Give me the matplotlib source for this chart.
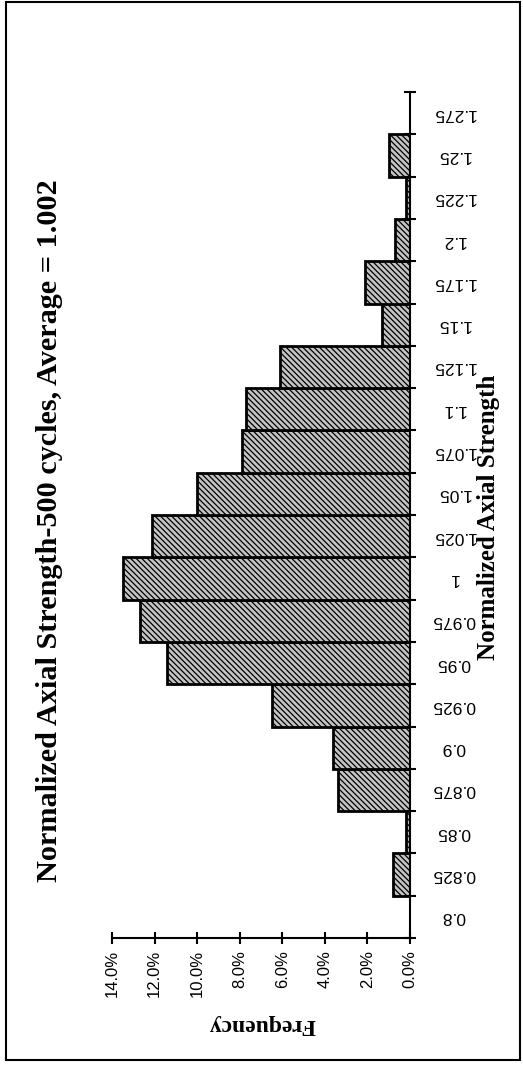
import matplotlib
matplotlib.use("Agg")
import matplotlib.pyplot as plt
from matplotlib.patches import Rectangle

# histogram bins (normalized axial strength) and frequency in percent
categories = ["0.8", "0.825", "0.85", "0.875", "0.9", "0.925", "0.95", "0.975", "1",
              "1.025", "1.05", "1.075", "1.1", "1.125", "1.15", "1.175", "1.2",
              "1.225", "1.25", "1.275"]
frequency = [0.0, 0.8, 0.2, 3.4, 3.6, 6.5, 11.4, 12.7, 13.5,
             12.1, 10.0, 7.9, 7.7, 6.1, 1.3, 2.1, 0.7,
             0.2, 1.0, 0.0]
pct_ticks = [0, 2, 4, 6, 8, 10, 12, 14]
pct_labels = ["0.0%", "2.0%", "4.0%", "6.0%", "8.0%", "10.0%", "12.0%", "14.0%"]

W, H = 523, 1065
plt.rcParams["hatch.linewidth"] = 0.9
fig = plt.figure(figsize=(W / 100, H / 100), dpi=100)

# the whole chart is printed turned on its side, so build it sideways
ax = fig.add_axes([112 / W, 1 - 938 / H, (410 - 112) / W, (938 - 92) / H])
pos = list(range(len(categories)))
ax.barh(pos, frequency, height=1.0, color="#c4c4c4", edgecolor="black",
        linewidth=2, hatch="\\\\\\\\\\\\")

ax.set_xlim(14, 0)
ax.set_ylim(-0.5, len(categories) - 0.5)
for side in ["top", "left"]:
    ax.spines[side].set_visible(False)
ax.spines["bottom"].set_linewidth(1.5)
ax.spines["right"].set_linewidth(1.5)

ax.set_xticks(pct_ticks)
ax.set_xticklabels(pct_labels, rotation=90, fontsize=12, family="Liberation Sans")
ax.tick_params(axis="x", direction="inout", length=9, width=1.5, pad=4)

ax.yaxis.tick_right()
ax.set_yticks([p - 0.5 for p in pos] + [len(categories) - 0.5])
ax.set_yticklabels([])
ax.set_yticks(pos, minor=True)
ax.set_yticklabels(categories, minor=True, rotation=180, fontsize=12.5,
                   family="Liberation Sans", ha="left", va="center")
ax.tick_params(axis="y", which="major", direction="inout", length=9, width=1.5)
ax.tick_params(axis="y", which="minor", length=0, pad=12)
for lbl in ax.get_yticklabels(minor=True):
    lbl.set_horizontalalignment("center")
    lbl.set_x(1.09)

fig.text(50 / W, 1 - 531 / H,
         "Normalized Axial Strength-500 cycles, Average = 1.002",
         rotation=90, ha="center", va="center", fontsize=21.8,
         family="Liberation Serif", weight="bold")
fig.text(488 / W, 1 - 517 / H, "Normalized Axial Strength", rotation=90,
         ha="center", va="center", fontsize=18, family="Liberation Serif",
         weight="bold")
fig.text(262 / W, 1 - 1025 / H, "Frequency", rotation=180, ha="center",
         va="center", fontsize=17, family="Liberation Serif", weight="bold")

fig.patches.append(Rectangle((6 / W, 1 - 1060 / H), 514 / W, 1058 / H,
                             transform=fig.transFigure, fill=False,
                             edgecolor="black", linewidth=1.5))

fig.savefig("out.png", dpi=100)
